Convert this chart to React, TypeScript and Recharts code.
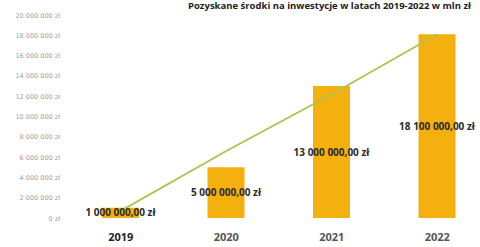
import React from 'react';
import { ComposedChart, Bar, Line, XAxis, YAxis, LabelList } from 'recharts';

const years = ['2019', '2020', '2021', '2022'];
const amounts = [1000000, 5000000, 13000000, 18100000];
const trend = [700000, 6600000, 12200000, 18100000];
const yTicks = [0, 2000000, 4000000, 6000000, 8000000, 10000000, 12000000, 14000000, 16000000, 18000000, 20000000];

const data = years.map((year, i) => ({ year, amount: amounts[i], trend: trend[i] }));

const groupDigits = (n: number) => String(Math.round(n)).replace(/\B(?=(\d{3})+(?!\d))/g, ' ');

const YTick = (props: any) => {
  const { x, y, payload } = props;
  return (
    <text x={x} y={y} dy={2.5} textAnchor="end" fontSize={6.5} fill="#a0a0a0" fontFamily="DejaVu Sans, sans-serif">
      {`${groupDigits(payload.value)} zł`}
    </text>
  );
};

const XTick = (props: any) => {
  const { x, y, payload, index } = props;
  return (
    <text
      x={x}
      y={y}
      dy={9}
      textAnchor="middle"
      fontSize={11}
      fontWeight={700}
      fill={index === 0 ? '#222' : '#555'}
      fontFamily="Open Sans, sans-serif"
    >
      {payload.value}
    </text>
  );
};

const BarLabel = (props: any) => {
  const { x, y, width, height, value } = props;
  return (
    <text
      x={x + width / 2}
      y={y + height / 2}
      dy={3.5}
      textAnchor="middle"
      fontSize={10}
      fontWeight={700}
      fill="#2a2a2a"
      fontFamily="Open Sans, sans-serif"
    >
      {`${groupDigits(Number(value))},00 zł`}
    </text>
  );
};

export default function App() {
  return (
    <div style={{ position: 'absolute', left: 0, top: 0, width: 480, height: 247, overflow: 'hidden', background: '#fff' }}>
      <div
        style={{
          position: 'absolute',
          left: 188,
          top: 0,
          lineHeight: '11px',
          fontFamily: 'Open Sans, sans-serif',
          fontWeight: 700,
          fontSize: 9.5,
          color: '#222',
          whiteSpace: 'nowrap',
        }}
      >
        Pozyskane środki na inwestycje w latach 2019-2022 w mln zł
      </div>
      <ComposedChart width={490} height={247} data={data} margin={{ top: 15, right: 0, bottom: 0, left: 0 }}>
        <XAxis
          dataKey="year"
          axisLine={false}
          tickLine={false}
          height={29}
          tickMargin={8}
          tick={<XTick />}
        />
        <YAxis
          width={68}
          domain={[0, 20000000]}
          ticks={yTicks}
          interval={0}
          axisLine={false}
          tickLine={false}
          tick={<YTick />}
        />
        <Bar dataKey="amount" fill="#F4B00E" barSize={37} isAnimationActive={false}>
          <LabelList dataKey="amount" content={<BarLabel />} />
        </Bar>
        <Line
          dataKey="trend"
          type="linear"
          stroke="#A8C64E"
          strokeWidth={1.8}
          dot={false}
          activeDot={false}
          isAnimationActive={false}
        />
      </ComposedChart>
    </div>
  );
}
